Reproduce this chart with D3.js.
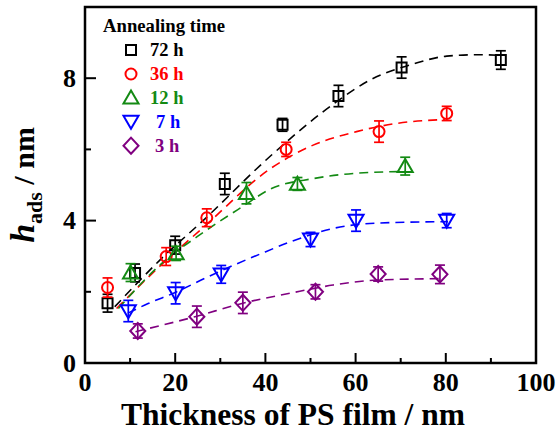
<!DOCTYPE html>
<html><head><meta charset="utf-8">
<script src="https://cdn.jsdelivr.net/npm/d3@7"></script>
<style>html,body{margin:0;padding:0;background:#fff;}svg{display:block;}</style>
</head><body><svg id="c" width="560" height="443"></svg>
<script>
// ---- data ----
const seriesNames = ["72 h","36 h","12 h","7 h","3 h"];
const seriesColors = ["#000000","#ff0000","#138a13","#0000ff","#800080"];
const seriesSymbols = ["square","circle","triangle","triangleDown","diamond"];

const x72 = [5, 11.1, 20, 31, 43.8, 56.2, 70.2, 92.2];
const y72 = [1.68, 2.53, 3.31, 5.03, 6.69, 7.5, 8.3, 8.51];
const e72 = [0.25, 0.25, 0.25, 0.3, 0.18, 0.3, 0.3, 0.26];

const x36 = [5, 18, 27, 44.6, 65.2, 80.2];
const y36 = [2.12, 2.99, 4.08, 6.0, 6.5, 7.01];
const e36 = [0.27, 0.25, 0.25, 0.2, 0.3, 0.2];

const x12 = [10.1, 20.2, 35.8, 47.1, 71];
const y12 = [2.54, 3.08, 4.77, 5.03, 5.53];
const e12 = [0.25, 0.2, 0.3, 0.18, 0.25];

const x7 = [9.6, 20.1, 30.2, 50, 60.1, 80.2];
const y7 = [1.46, 1.96, 2.49, 3.47, 4.0, 4.0];
const e7 = [0.3, 0.3, 0.25, 0.2, 0.3, 0.2];

const x3 = [11.7, 24.8, 35, 51.1, 65, 78.7];
const y3 = [0.9, 1.3, 1.69, 2.0, 2.5, 2.49];
const e3 = [0.2, 0.3, 0.3, 0.2, 0.2, 0.26];

// fitted dashed curves
const fx72 = [6.6, 16.6, 26.6, 41, 55.8, 63.2, 72.8, 80.2, 87.6, 92.5];
const fy72 = [1.58, 2.89, 4.05, 5.8, 7.34, 7.95, 8.40, 8.62, 8.66, 8.64];
const fx36 = [7, 16.6, 26.6, 41, 50.6, 60.2, 69.1, 79.8];
const fy36 = [1.53, 2.72, 3.85, 5.45, 6.12, 6.5, 6.73, 6.84];
const fx12 = [7.4, 16.6, 26.6, 35, 41, 50.6, 60.2, 71];
const fy12 = [1.53, 2.75, 3.7, 4.4, 4.88, 5.18, 5.33, 5.38];
const fx7 = [9.5, 14, 20, 26.6, 33, 38.8, 45.5, 55, 64.7, 80.5];
const fy7 = [1.4, 1.67, 1.98, 2.38, 2.75, 3.06, 3.4, 3.78, 3.93, 3.97];
const fx3 = [11.2, 24.4, 35, 45.5, 55, 64.7, 79];
const fy3 = [0.88, 1.3, 1.68, 1.96, 2.19, 2.33, 2.37];

const xTicks = [0, 20, 40, 60, 80, 100];
const xMinor = [10, 30, 50, 70, 90];
const yTicks = [0, 4, 8];
const yMinor = [2, 6];

const legendTitle = "Annealing time";
const xTitle = "Thickness of PS film / nm";

// ---- build ----
const FONT = "'Liberation Serif','Times New Roman','DejaVu Serif',serif";
const pts = [[x72,y72,e72],[x36,y36,e36],[x12,y12,e12],[x7,y7,e7],[x3,y3,e3]];
const fits = [[fx72,fy72],[fx36,fy36],[fx12,fy12],[fx7,fy7],[fx3,fy3]];

const L = 85, R = 536, T = 7, B = 363;
const x = d3.scaleLinear().domain([0,100]).range([L,R]);
const y = d3.scaleLinear().domain([0,10]).range([B,T]);
const svg = d3.select("#c").attr("font-family", FONT);

function symPath(type, size){
  const s = size;
  switch(type){
    case "square": return `M${-s/2},${-s/2}h${s}v${s}h${-s}Z`;
    case "circle": { const r = s/2; return `M${r},0A${r},${r} 0 1 1 ${-r},0A${r},${r} 0 1 1 ${r},0Z`; }
    case "triangle": return `M0,${-s*0.55}L${s*0.58},${s*0.45}L${-s*0.58},${s*0.45}Z`;
    case "triangleDown": return `M0,${s*0.55}L${s*0.58},${-s*0.45}L${-s*0.58},${-s*0.45}Z`;
    case "diamond": return `M0,${-s*0.62}L${s*0.58},0L0,${s*0.62}L${-s*0.58},0Z`;
  }
}
const symSize = {square:10, circle:11, triangle:13, triangleDown:13, diamond:13};

// fit curves
const line = d3.line().x(d=>x(d[0])).y(d=>y(d[1])).curve(d3.curveMonotoneX);
fits.forEach((f,i)=>{
  svg.append("path").attr("d", line(f[0].map((v,j)=>[v,f[1][j]])))
    .attr("fill","none").attr("stroke",seriesColors[i]).attr("stroke-width",1.6)
    .attr("stroke-dasharray","9,6");
});

// error bars and markers
pts.forEach((p,i)=>{
  const g = svg.append("g").attr("stroke",seriesColors[i]).attr("stroke-width",1.7).attr("fill","none");
  p[0].forEach((xv,j)=>{
    const yv = p[1][j], e = p[2][j];
    const cx = x(xv);
    g.append("line").attr("x1",cx).attr("x2",cx).attr("y1",y(yv+e)).attr("y2",y(yv-e));
    g.append("line").attr("x1",cx-5).attr("x2",cx+5).attr("y1",y(yv+e)).attr("y2",y(yv+e));
    g.append("line").attr("x1",cx-5).attr("x2",cx+5).attr("y1",y(yv-e)).attr("y2",y(yv-e));
    g.append("path").attr("d",symPath(seriesSymbols[i],symSize[seriesSymbols[i]]))
      .attr("transform",`translate(${cx},${y(yv)})`).attr("stroke-width",2).attr("fill","none");
  });
});

// frame
svg.append("rect").attr("x",L).attr("y",T).attr("width",R-L).attr("height",B-T)
  .attr("fill","none").attr("stroke","#000").attr("stroke-width",2.5);

// ticks (inward)
const ax = svg.append("g").attr("stroke","#000").attr("stroke-width",2);
xTicks.forEach(t=>ax.append("line").attr("x1",x(t)).attr("x2",x(t)).attr("y1",B).attr("y2",B-10));
xMinor.forEach(t=>ax.append("line").attr("x1",x(t)).attr("x2",x(t)).attr("y1",B).attr("y2",B-5));
yTicks.forEach(t=>ax.append("line").attr("x1",L).attr("x2",L+11).attr("y1",y(t)).attr("y2",y(t)));
yMinor.forEach(t=>ax.append("line").attr("x1",L).attr("x2",L+6).attr("y1",y(t)).attr("y2",y(t)));

// tick labels
const tickSize = 26;
svg.selectAll("text.xl").data(xTicks).enter().append("text").attr("class","xl")
  .attr("x",d=>x(d)).attr("y",391).attr("text-anchor","middle")
  .attr("font-size",tickSize).attr("font-weight","bold").text(d=>d);
svg.selectAll("text.yl").data(yTicks).enter().append("text").attr("class","yl")
  .attr("x",76).attr("y",d=>y(d)+tickSize*0.33).attr("text-anchor","end")
  .attr("font-size",tickSize).attr("font-weight","bold").text(d=>d);

// axis titles
svg.append("text").attr("x",293).attr("y",425).attr("text-anchor","middle")
  .attr("font-size",31.5).attr("font-weight","bold").text(xTitle);
const yt = svg.append("text").attr("transform",`translate(34,${(T+B)/2}) rotate(-90)`)
  .attr("text-anchor","middle").attr("font-weight","bold");
yt.append("tspan").attr("font-size",34).attr("font-style","italic").text("h");
yt.append("tspan").attr("font-size",22).attr("dy",8).text("ads");
yt.append("tspan").attr("font-size",30).attr("dy",-8).text(" / nm");

// legend
svg.append("text").attr("x",103).attr("y",32).attr("font-size",18.7)
  .attr("font-weight","bold").text(legendTitle);
const rowY = [50, 74, 97.7, 121.7, 145.7];
const textX = [150, 150, 150, 156, 155];
seriesNames.forEach((n,i)=>{
  svg.append("path").attr("d",symPath(seriesSymbols[i],symSize[seriesSymbols[i]]))
    .attr("transform",`translate(131,${rowY[i]})`).attr("fill","none")
    .attr("stroke",seriesColors[i]).attr("stroke-width",2);
  svg.append("text").attr("x",textX[i]).attr("y",rowY[i]+6).attr("font-size",18.5)
    .attr("font-weight","bold").attr("fill",seriesColors[i]).text(n);
});
</script></body></html>
